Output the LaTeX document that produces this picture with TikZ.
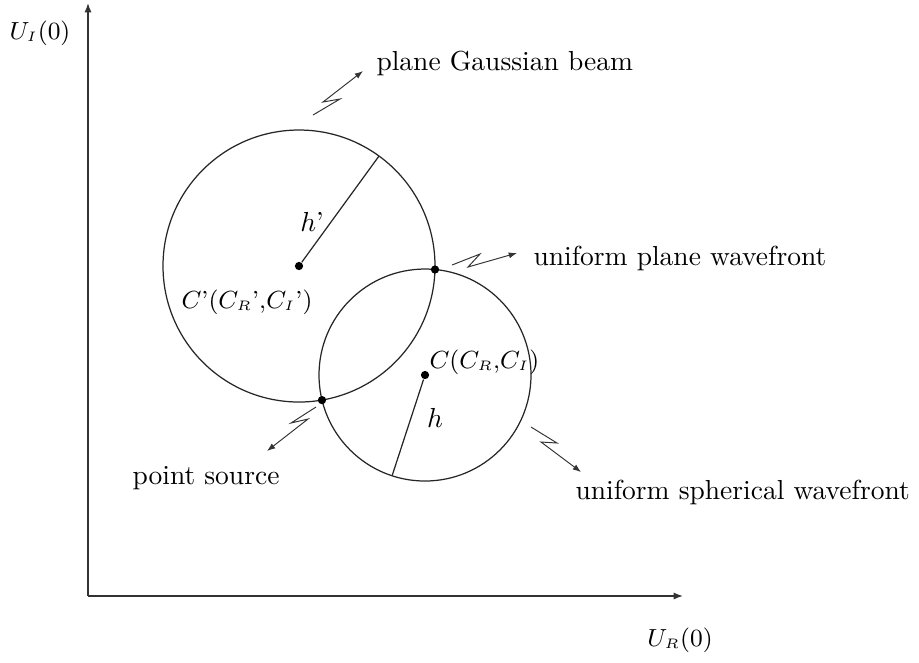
\documentclass[tikz,border=0pt]{standalone}
\usepackage{amsmath}
\usetikzlibrary{arrows.meta}

\newcommand{\ssub}[1]{_{\scriptscriptstyle #1}}

\begin{document}
\begin{tikzpicture}[
  x=0.3636pt, y=-0.3636pt,
  axis/.style={-{Latex[length=3.4pt,width=2.6pt]}, line width=0.5pt, black!80},
  ray/.style={-{Latex[length=3pt,width=2.2pt]}, line width=0.35pt, black!80},
  wave/.style={line width=0.45pt, black!85},
  dot/.style={circle, fill, inner sep=0pt, minimum size=3pt},
  lbl/.style={inner sep=0pt, font=\normalsize},
  mlbl/.style={inner sep=0pt, font=\small}]
\useasboundingbox (0,0) rectangle (919,662);
\coordinate (O) at (88,596);
\coordinate (ytip) at (88,3);
\coordinate (xtip) at (683,596);
\draw[axis] (O) -- (ytip);
\draw[axis] (O) -- (xtip);
\node[mlbl] (uy) at (40,33) {$U\ssub{I}(0)$};
\node[mlbl] (ux) at (680,640) {$U\ssub{R}(0)$};

\node[dot] (cbig) at (299,266) {};
\node[dot] (csmall) at (425,375) {};
\draw[wave] (cbig) circle[radius=49.45pt];
\draw[wave] (csmall) circle[radius=38.54pt];
\node[dot] (pwave) at (435,269.5) {};
\node[dot] (psrc) at (322,400.1) {};

\coordinate (rbig) at (379,156);
\coordinate (rsmall) at (392,476);
\draw[wave] (cbig) -- (rbig);
\draw[wave] (csmall) -- (rsmall);
\node[lbl] (hbig) at (312,222) {$h$'};
\node[lbl] (hsmall) at (435,418) {$h$};
\node[mlbl] (cbiglbl) at (247,302) {$C$'$(C\ssub{R}$'${,}C\ssub{I}$'$)$};
\node[mlbl, anchor=west] (csmalllbl) at (429,362) {$C(C\ssub{R}{,}C\ssub{I})$};

\node[lbl, anchor=west] (gauss) at (376,63) {plane Gaussian beam};
\node[lbl, anchor=west] (plane) at (533,258) {uniform plane wavefront};
\node[lbl] (source) at (206,478) {point source};
\node[lbl, anchor=west] (sphere) at (575,492) {uniform spherical wavefront};

\coordinate (g1) at (313,115);
\coordinate (g2) at (363,71);
\coordinate (w1) at (452,265);
\coordinate (w2) at (517,253);
\coordinate (s1) at (316,407);
\coordinate (s2) at (267,451);
\coordinate (u1) at (531,427);
\coordinate (u2) at (581,472);
\draw[ray] (g1) -- (340,99) -- (323,102) -- (g2);
\draw[ray] (w1) -- (480,254) -- (468,267) -- (w2);
\draw[ray] (s1) -- (291,423) -- (308,419) -- (s2);
\draw[ray] (u1) -- (557,443) -- (541,442) -- (u2);
\end{tikzpicture}
\end{document}
